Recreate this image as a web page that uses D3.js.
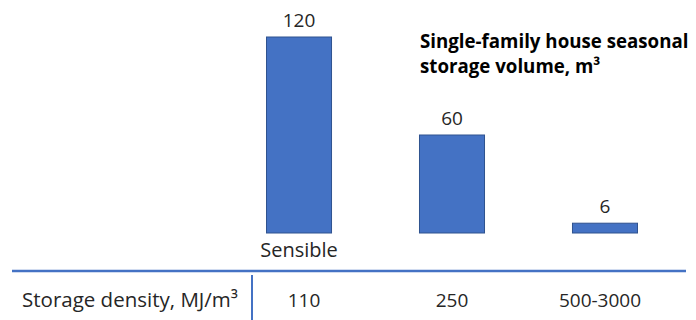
<!DOCTYPE html>
<html>
<head>
<meta charset="utf-8">
<script src="https://cdn.jsdelivr.net/npm/d3@7"></script>
<style>
  html, body { margin: 0; padding: 0; background: #fff; }
  svg { display: block; }
</style>
</head>
<body>
<svg id="chart" width="696" height="320"></svg>
<script>
// ---- data ----
const categories = ["Sensible", "Latent", "Thermochemical"];
const volumes = [120, 60, 6];                  // single-family house seasonal storage volume, m³
const densityLabels = ["110", "250", "500-3000"]; // storage density, MJ/m³
const categoryLabels = ["Sensible", "", ""];   // visible category captions
const titleLines = ["Single-family house seasonal", "storage volume, m³"];
const rowHeader = "Storage density, MJ/m³";

const svg = d3.select("#chart");
const font = "'Open Sans', sans-serif";
const textColor = "#262626";
const blue = "#4472C4";

const x = d3.scaleBand()
  .domain(categories)
  .range([266.5, 637.5])
  .paddingInner(0.575)
  .paddingOuter(0);

// table columns (slightly offset from bar centres in the original)
const col = d3.scalePoint()
  .domain(categories)
  .range([304, 600]);

const y = d3.scaleLinear().domain([0, 120]).range([233, 37]);

// bars
svg.append("g").selectAll("rect")
  .data(categories)
  .join("rect")
  .attr("x", d => x(d))
  .attr("y", (d, i) => y(volumes[i]))
  .attr("width", x.bandwidth())
  .attr("height", (d, i) => y(0) - y(volumes[i]))
  .attr("fill", blue)
  .attr("stroke", "#2F528F")
  .attr("stroke-width", 1);

// value labels
svg.append("g").selectAll("text")
  .data(categories)
  .join("text")
  .attr("x", d => x(d) + x.bandwidth() / 2)
  .attr("y", (d, i) => y(volumes[i]) - 10)
  .attr("text-anchor", "middle")
  .attr("font-family", font)
  .attr("font-size", 19)
  .attr("fill", textColor)
  .text((d, i) => volumes[i]);

// category caption
svg.append("g").selectAll("text")
  .data(categories)
  .join("text")
  .attr("x", d => x(d) + x.bandwidth() / 2)
  .attr("y", 257)
  .attr("text-anchor", "middle")
  .attr("font-family", font)
  .attr("font-size", 20)
  .attr("fill", textColor)
  .text((d, i) => categoryLabels[i]);

// title
const title = svg.append("text")
  .attr("x", 420)
  .attr("y", 48)
  .attr("font-family", font)
  .attr("font-size", 18.7)
  .attr("font-weight", "bold")
  .attr("fill", "#000");
title.selectAll("tspan")
  .data(titleLines)
  .join("tspan")
  .attr("x", 420)
  .attr("dy", (d, i) => i === 0 ? 0 : 25)
  .text(d => d);

// table lines
svg.append("line")
  .attr("x1", 12).attr("x2", 686)
  .attr("y1", 271).attr("y2", 271)
  .attr("stroke", blue)
  .attr("stroke-width", 2.5);

svg.append("line")
  .attr("x1", 252).attr("x2", 252)
  .attr("y1", 275).attr("y2", 320)
  .attr("stroke", blue)
  .attr("stroke-width", 2);

// row header
svg.append("text")
  .attr("x", 22)
  .attr("y", 307)
  .attr("font-family", font)
  .attr("font-size", 20.5)
  .attr("fill", textColor)
  .text(rowHeader);

// density values
svg.append("g").selectAll("text")
  .data(categories)
  .join("text")
  .attr("x", d => col(d))
  .attr("y", 307)
  .attr("text-anchor", "middle")
  .attr("font-family", font)
  .attr("font-size", 19)
  .attr("fill", textColor)
  .text((d, i) => densityLabels[i]);
</script>
</body>
</html>
